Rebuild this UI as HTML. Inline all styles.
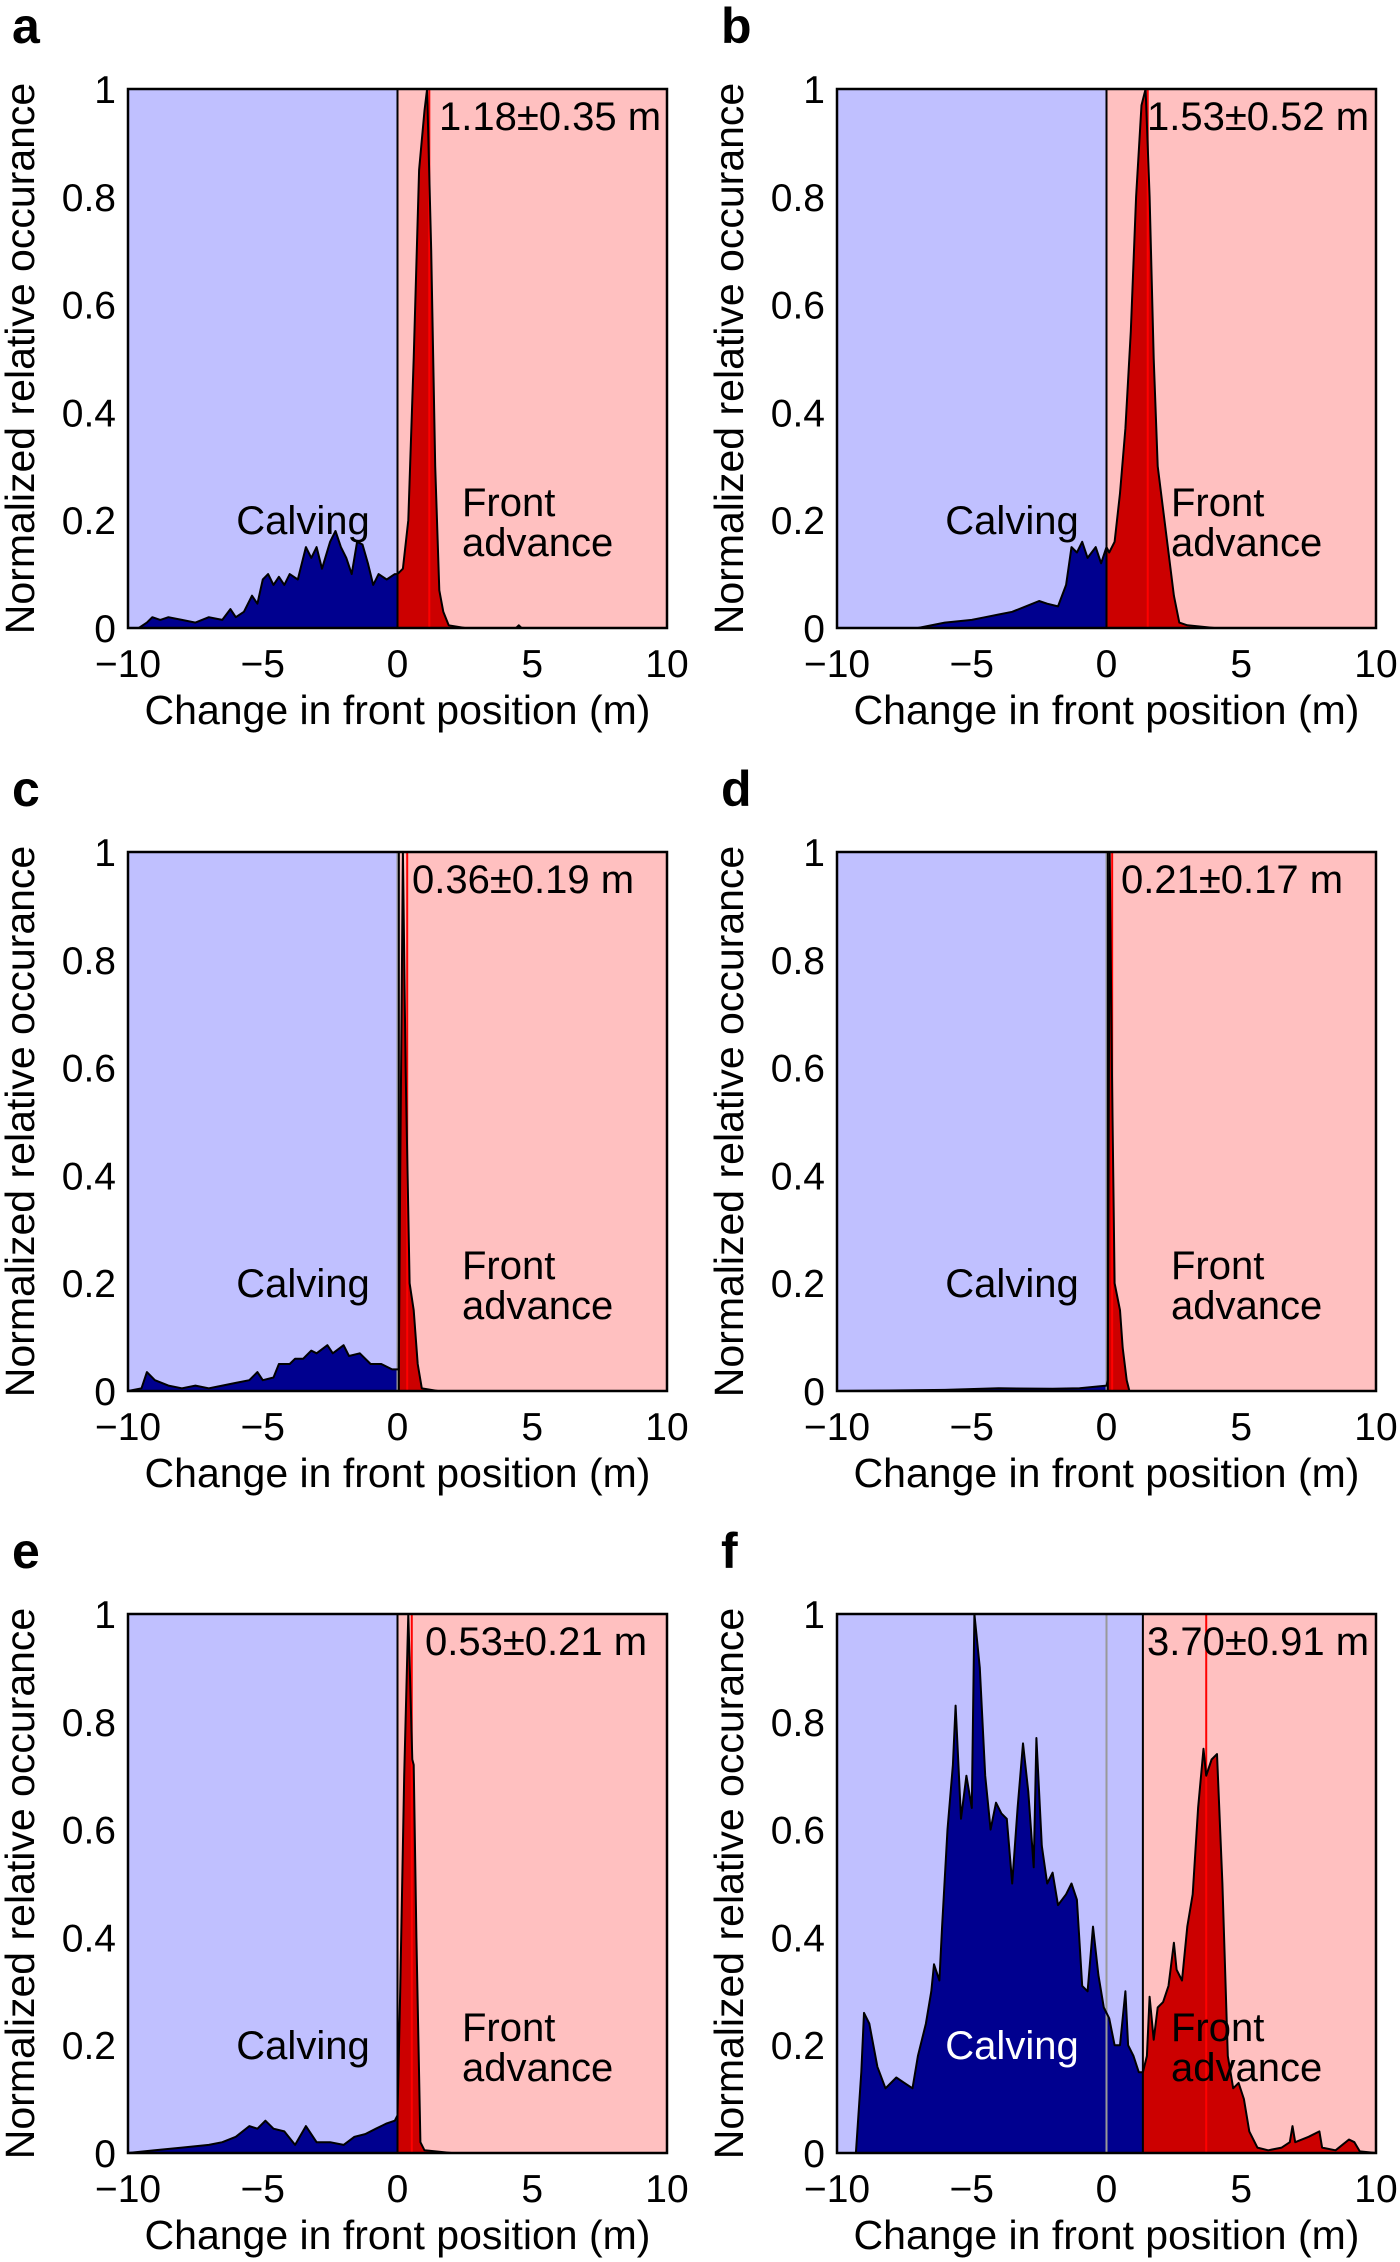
<!DOCTYPE html>
<html><head><meta charset="utf-8"><style>
html,body{margin:0;padding:0;background:#fff;}
svg{display:block;font-family:"Liberation Sans",Arial,sans-serif;}
</style></head><body>
<svg id="fig" width="1400" height="2262" viewBox="0 0 1400 2262" xmlns="http://www.w3.org/2000/svg"></svg>
<script>
// ---- data ----
const xTicks = [-10, -5, 0, 5, 10];
const xTickLabels = ["\u221210", "\u22125", "0", "5", "10"];
const yTicks = [0, 0.2, 0.4, 0.6, 0.8, 1];
const yTickLabels = ["0", "0.2", "0.4", "0.6", "0.8", "1"];

const aX = [-10,-9.6,-9.3,-9.1,-8.8,-8.5,-8,-7.5,-7,-6.5,-6.2,-6,-5.7,-5.4,-5.2,-5,-4.8,-4.6,-4.4,-4.2,-4,-3.7,-3.4,-3.2,-3,-2.8,-2.5,-2.3,-2.1,-1.9,-1.7,-1.5,-1.3,-1.1,-0.9,-0.7,-0.4,-0.1,0,0.2,0.4,0.6,0.8,1.0,1.1,1.25,1.4,1.55,1.7,1.9,2.5,4.4,4.5,4.6,10];
const aY = [0,0,0.01,0.02,0.015,0.02,0.015,0.01,0.02,0.015,0.035,0.02,0.03,0.06,0.045,0.09,0.1,0.08,0.095,0.08,0.1,0.09,0.15,0.13,0.15,0.11,0.16,0.18,0.15,0.13,0.1,0.16,0.155,0.12,0.08,0.1,0.09,0.1,0.1,0.11,0.2,0.5,0.85,0.96,1.0,0.7,0.3,0.07,0.03,0.005,0,0,0.005,0,0];
const bX = [-10,-7,-6,-5,-4.5,-4,-3.5,-3,-2.5,-2.2,-1.8,-1.5,-1.3,-1.1,-0.9,-0.7,-0.4,-0.2,0,0.1,0.3,0.5,0.7,0.9,1.1,1.3,1.45,1.6,1.75,1.9,2.1,2.3,2.5,2.7,3,4,10];
const bY = [0,0,0.01,0.015,0.02,0.025,0.03,0.04,0.05,0.045,0.04,0.08,0.15,0.14,0.16,0.13,0.15,0.12,0.15,0.14,0.16,0.25,0.37,0.55,0.8,0.97,1.0,0.8,0.5,0.3,0.22,0.14,0.06,0.01,0.005,0,0];
const cX = [-10,-9.5,-9.3,-9,-8.5,-8,-7.5,-7,-6.5,-6,-5.5,-5.2,-5,-4.6,-4.4,-4,-3.8,-3.5,-3.2,-3,-2.6,-2.4,-2,-1.8,-1.4,-1,-0.6,-0.2,0,0.05,0.1,0.2,0.3,0.45,0.6,0.75,0.9,1.5,10];
const cY = [0,0.005,0.035,0.02,0.01,0.005,0.01,0.005,0.01,0.015,0.02,0.035,0.02,0.025,0.05,0.05,0.06,0.06,0.075,0.07,0.085,0.07,0.085,0.065,0.07,0.05,0.05,0.04,0.04,0.04,0.4,1.0,0.6,0.2,0.15,0.05,0.005,0,0];
const dX = [-10,-6,-4,-2,-1,0,0.05,0.12,0.2,0.3,0.5,0.6,0.75,0.85,10];
const dY = [0,0.002,0.005,0.004,0.005,0.01,0.02,1.0,0.6,0.2,0.15,0.08,0.02,0,0];
const eX = [-10,-9,-8,-7,-6.5,-6,-5.5,-5.2,-4.9,-4.6,-4.2,-3.8,-3.4,-3,-2.5,-2,-1.6,-1.2,-0.8,-0.4,-0.1,0,0.1,0.25,0.4,0.55,0.6,0.7,0.85,1,2,10];
const eY = [0,0.005,0.01,0.015,0.02,0.03,0.05,0.045,0.06,0.045,0.04,0.015,0.05,0.02,0.02,0.015,0.03,0.035,0.045,0.055,0.06,0.07,0.3,0.7,1.0,0.73,0.72,0.4,0.02,0.005,0,0];
const fX = [-10,-9.3,-9.1,-9.0,-8.8,-8.5,-8.2,-7.8,-7.5,-7.2,-7,-6.7,-6.5,-6.4,-6.2,-6.1,-5.9,-5.7,-5.6,-5.4,-5.2,-5.0,-4.9,-4.7,-4.5,-4.3,-4.1,-3.9,-3.7,-3.5,-3.3,-3.1,-2.9,-2.7,-2.6,-2.4,-2.2,-2.0,-1.8,-1.5,-1.3,-1.1,-0.9,-0.7,-0.5,-0.3,-0.1,0.1,0.3,0.5,0.7,0.8,1.0,1.2,1.35,1.5,1.6,1.75,1.9,2.1,2.3,2.5,2.6,2.8,3.0,3.2,3.4,3.6,3.7,3.9,4.1,4.3,4.5,4.7,4.9,5.1,5.3,5.6,6,6.5,6.8,6.9,7.0,7.5,7.9,8.0,8.5,9,9.2,9.4,10];
const fY = [0,0,0.15,0.26,0.24,0.16,0.12,0.14,0.13,0.12,0.18,0.24,0.3,0.35,0.32,0.42,0.6,0.72,0.83,0.62,0.7,0.64,1.0,0.9,0.7,0.6,0.65,0.63,0.62,0.5,0.64,0.76,0.67,0.53,0.77,0.57,0.5,0.52,0.46,0.48,0.5,0.47,0.31,0.3,0.42,0.33,0.27,0.25,0.2,0.2,0.3,0.2,0.18,0.15,0.15,0.18,0.29,0.21,0.27,0.28,0.31,0.39,0.34,0.32,0.42,0.48,0.64,0.75,0.7,0.73,0.74,0.5,0.18,0.12,0.13,0.1,0.04,0.01,0.005,0.01,0.02,0.05,0.02,0.03,0.04,0.01,0.005,0.025,0.02,0.003,0];

const panelLetters = ["a","b","c","d","e","f"];
const panelMeans = [1.18,1.53,0.36,0.21,0.53,3.70];
const panelMeanLabels = ["1.18\u00b10.35 m","1.53\u00b10.52 m","0.36\u00b10.19 m","0.21\u00b10.17 m","0.53\u00b10.21 m","3.70\u00b10.91 m"];
const panelBoundaries = [0,0,0.05,0.05,0,1.35];
const panelSeriesX = [aX,bX,cX,dX,eX,fX];
const panelSeriesY = [aY,bY,cY,dY,eY,fY];

// ---- layout ----
const NS = "http://www.w3.org/2000/svg";
const svg = document.getElementById("fig");
const W = 539, H = 539;
const lefts = [128, 837];
const tops = [89, 852, 1614];
const labelOffsets = [311, 310, 284, 284, 297, 310];

function mk(tag, attrs, parent) {
  const e = document.createElementNS(NS, tag);
  for (const k in attrs) e.setAttribute(k, attrs[k]);
  (parent || svg).appendChild(e);
  return e;
}

for (let i = 0; i < 6; i++) {
  const L = lefts[i % 2], T = tops[Math.floor(i / 2)];
  const sx = v => L + (v + 10) / 20 * W;
  const sy = v => T + H - v * H;
  const g = mk("g", {});
  
  

  const b = panelBoundaries[i];
  const bx = sx(b);
  const bgBlue = mk("rect", {x: L, y: T, width: bx - L, height: H, fill: "#c0c0ff"}, g);
  
  
  const bgPink = mk("rect", {x: bx, y: T, width: L + W - bx, height: H, fill: "#ffc0c0"}, g);
  
  

  const cpL = mk("clipPath", {id: "cl" + i}, g);
  mk("rect", {x: L, y: T, width: bx - L, height: H}, cpL);
  const cpR = mk("clipPath", {id: "cr" + i}, g);
  mk("rect", {x: bx, y: T, width: L + W - bx, height: H}, cpR);

  const xs = panelSeriesX[i], ys = panelSeriesY[i];
  let d = "M" + sx(xs[0]) + "," + sy(0);
  for (let k = 0; k < xs.length; k++) d += " L" + sx(xs[k]).toFixed(1) + "," + sy(ys[k]).toFixed(1);
  d += " L" + sx(xs[xs.length - 1]) + "," + sy(0) + " Z";
  const fillL = mk("path", {d: d, fill: "#00008f", "clip-path": "url(#cl" + i + ")"}, g);
  
  
  const fillR = mk("path", {d: d, fill: "#cc0000", "clip-path": "url(#cr" + i + ")"}, g);
  
  

  const gl = mk("line", {x1: sx(0), x2: sx(0), y1: T, y2: T + H, stroke: "#999", "stroke-width": 2}, g);
  
  
  const bl = mk("line", {x1: bx, x2: bx, y1: T, y2: T + H, stroke: "#000", "stroke-width": 2}, g);
  
  
  const ml = mk("line", {x1: sx(panelMeans[i]), x2: sx(panelMeans[i]), y1: T, y2: T + H, stroke: "#ff0000", "stroke-width": 2}, g);
  
  

  let dl = "";
  for (let k = 0; k < xs.length; k++) dl += (k ? " L" : "M") + sx(xs[k]).toFixed(1) + "," + sy(ys[k]).toFixed(1);
  const outline = mk("path", {d: dl, fill: "none", stroke: "#000", "stroke-width": 2, "stroke-linejoin": "round"}, g);
  
  

  const frame = mk("rect", {x: L, y: T, width: W, height: H, fill: "none", stroke: "#000", "stroke-width": 2.5}, g);
  
  

  for (let k = 0; k < xTicks.length; k++) {
    const t = mk("text", {x: sx(xTicks[k]), y: T + H + 49, "font-size": 39, "text-anchor": "middle", fill: "#000"}, g);
    t.textContent = xTickLabels[k];
    
    
  }
  for (let k = 0; k < yTicks.length; k++) {
    const t = mk("text", {x: L - 12, y: sy(yTicks[k]) + 14, "font-size": 39, "text-anchor": "end", fill: "#000"}, g);
    t.textContent = yTickLabels[k];
    
    
  }
  const xt = mk("text", {x: L + W / 2, y: T + H + 96, "font-size": 41, "text-anchor": "middle", fill: "#000"}, g);
  xt.textContent = "Change in front position (m)";
  
  
  const yx = L - 94, yy = T + H / 2;
  const yt = mk("text", {x: yx, y: yy, "font-size": 41, "text-anchor": "middle", fill: "#000", transform: "rotate(-90 " + yx + " " + yy + ")"}, g);
  yt.textContent = "Normalized relative occurance";
  
  

  const letter = mk("text", {x: L - 116, y: T - 46, "font-size": 50, "font-weight": "bold", fill: "#000"}, g);
  letter.textContent = panelLetters[i];
  
  

  const ann = mk("text", {x: L + labelOffsets[i], y: T + 41, "font-size": 40, fill: "#000"}, g);
  ann.textContent = panelMeanLabels[i];
  
  

  const cv = mk("text", {x: L + 175, y: T + 445, "font-size": 40, "text-anchor": "middle", fill: i === 5 ? "#fff" : "#000"}, g);
  cv.textContent = "Calving";
  
  
  const fr = mk("text", {x: L + 334, y: T + 427, "font-size": 40, fill: "#000"}, g);
  fr.textContent = "Front";
  
  
  const ad = mk("text", {x: L + 334, y: T + 467, "font-size": 40, fill: "#000"}, g);
  ad.textContent = "advance";
  
  
}
</script>
</body></html>
